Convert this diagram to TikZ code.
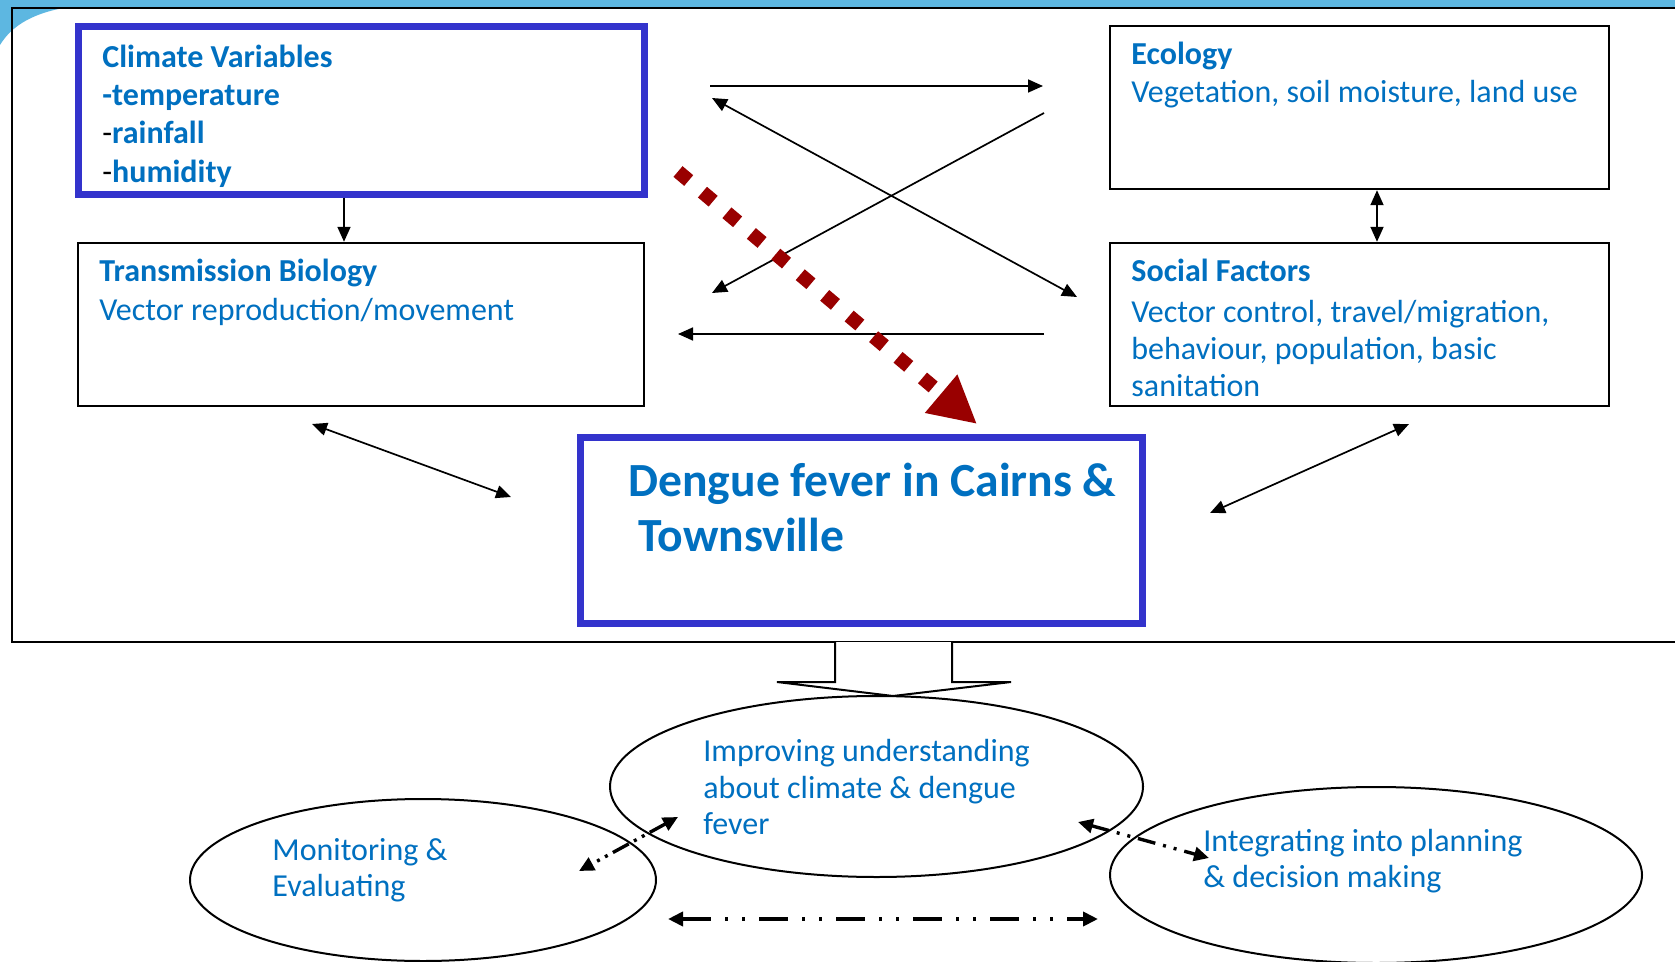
\documentclass[tikz,border=0pt]{standalone}
\usepackage{fontspec}
\setmainfont{Carlito}
\usetikzlibrary{arrows.meta,shapes.geometric}
\definecolor{txtblue}{HTML}{0070C0}
\definecolor{boxblue}{HTML}{3333CC}
\definecolor{darkred}{HTML}{990000}
\definecolor{skyA}{HTML}{D6EEF8}
\definecolor{skyB}{HTML}{5DB7E1}
\tikzset{
  bluebox/.style={draw=boxblue, line width=3.5pt, rectangle, inner sep=0pt},
  plainbox/.style={draw=black, line width=1.2pt, rectangle, inner sep=0pt},
  oval/.style={draw=black, line width=1pt, ellipse, inner sep=0pt},
  txt/.style={anchor=base west, inner sep=0pt, text=txtblue, font=\fontsize{16}{19}\selectfont},
  btxt/.style={txt, font=\fontsize{16}{19}\selectfont\bfseries},
  bigtxt/.style={txt, font=\fontsize{23.8}{28}\selectfont\bfseries},
  arr/.style={line width=0.85pt, -{Triangle[length=7.5pt,width=6.5pt]}},
  darr/.style={line width=0.85pt, {Triangle[length=7.5pt,width=6.5pt]}-{Triangle[length=7.5pt,width=6.5pt]}},
  thickdarr/.style={line width=1.7pt, {Triangle[length=7.5pt,width=7pt]}-{Triangle[length=7.5pt,width=7pt]}},
}
\begin{document}
\begin{tikzpicture}[x=0.5pt,y=-0.5pt]
\useasboundingbox (0,0) rectangle (1675,962);
\fill[white] (0,0) rectangle (1675,962);
% top swoosh
\shade[left color=skyB, middle color=skyA, right color=skyB]
  (0,0) -- (1675,0) -- (1675,7) -- (70,7) .. controls (35,12) and (12,25) .. (0,45) -- cycle;
% outer frame
\draw[line width=1.3pt] (1680,8) -- (12,8) -- (12,642) -- (1680,642);

% boxes
\node[bluebox, minimum width=283pt, minimum height=84pt] (climate) at (361.5,110.5) {};
\node[plainbox, minimum width=283pt, minimum height=81.5pt] (trans) at (361,324.5) {};
\node[plainbox, minimum width=249.5pt, minimum height=81.5pt] (eco) at (1359.5,107.5) {};
\node[plainbox, minimum width=249.5pt, minimum height=81.5pt] (social) at (1359.5,324.5) {};
\node[bluebox, minimum width=281pt, minimum height=93pt] (dengue) at (861,530) {};

% texts
\node[btxt] (cv1) at (102,68) {Climate Variables};
\node[btxt] (cv2) at (102,106) {-temperature};
\node[btxt] (cv3) at (102,144) {{\color{black}\mdseries -}rainfall};
\node[btxt] (cv4) at (102,183) {{\color{black}\mdseries -}humidity};
\node[btxt] (tb1) at (99,282) {Transmission Biology};
\node[txt] (tb2) at (99,321) {Vector reproduction/movement};
\node[btxt] (ec1) at (1131,65) {Ecology};
\node[txt] (ec2) at (1131,103) {Vegetation, soil moisture, land use};
\node[btxt] (sf1) at (1131,282) {Social Factors};
\node[txt] (sf2) at (1131,323) {Vector control, travel/migration,};
\node[txt] (sf3) at (1131,360) {behaviour, population, basic};
\node[txt] (sf4) at (1131,397) {sanitation};
\node[bigtxt] (dg1) at (628,496) {Dengue fever in Cairns \&};
\node[bigtxt] (dg2) at (638,551) {Townsville};

% ellipses
\node[oval, minimum width=266.5pt, minimum height=90.5pt] (improve) at (876.5,786.5) {};
\node[oval, minimum width=233pt, minimum height=81pt] (monitor) at (423,880) {};
\node[oval, minimum width=266pt, minimum height=88pt] (integrate) at (1376,875) {};
\node[txt] (im1) at (703,761) {Improving understanding};
\node[txt] (im2) at (703,798) {about climate \& dengue};
\node[txt] (im3) at (703,834) {fever};
\node[txt] (mo1) at (272,860) {Monitoring \&};
\node[txt] (mo2) at (272,896) {Evaluating};
\node[txt] (in1) at (1203,851) {Integrating into planning};
\node[txt] (in2) at (1203,887) {\& decision making};

% connector end points
\coordinate (a1s) at (710,86);   \coordinate (a1e) at (1043,86);
\coordinate (a2s) at (712,98);   \coordinate (a2e) at (1077,297);
\coordinate (a3s) at (1044,113); \coordinate (a3e) at (712,293);
\coordinate (a4s) at (1044,334); \coordinate (a4e) at (678,334);
\coordinate (t1) at (312,424);   \coordinate (t2) at (511,497);
\coordinate (s1) at (1409,424);  \coordinate (s2) at (1210,513);
\coordinate (r1) at (678,171.5); \coordinate (r2) at (977,424);
\coordinate (m1) at (579,871);   \coordinate (m2) at (678,817);
\coordinate (i1) at (1078,822);  \coordinate (i2) at (1209,858);
\coordinate (b1) at (668,919);   \coordinate (b2) at (1098,919);

% connectors
\draw[arr] (climate.south -| 344,0) -- (trans.north -| 344,0);
\draw[darr] (eco.south -| 1377,0) -- (social.north -| 1377,0);
\draw[arr] (a1s) -- (a1e);
\draw[darr] (a2s) -- (a2e);
\draw[arr] (a3s) -- (a3e);
\draw[arr] (a4s) -- (a4e);
\draw[darr] (t1) -- (t2);
\draw[darr] (s1) -- (s2);
\draw[darkred, line width=7pt, dash pattern=on 7pt off 9pt,
      -{Triangle[length=23.5pt,width=23.5pt]}] (r1) -- (r2);

% block arrow below frame
\coordinate (k1) at (835,642); \coordinate (k2) at (952,642);
\draw[line width=1pt, fill=white] (k1) -- (835,682) -- (777,682) -- (893,696) -- (1011,682) -- (952,682) -- (k2);

% ellipse connectors
\draw[thickdarr, dash pattern=on 9pt off 3pt on 1.5pt off 3pt on 1.5pt off 3pt] (m2) -- (m1);
\draw[thickdarr, dash pattern=on 9pt off 4pt on 1.5pt off 4pt on 1.5pt off 4pt] (i1) -- (i2);
\draw[thickdarr, line width=2pt, dash pattern=on 14.5pt off 7pt on 1.5pt off 7pt on 1.5pt off 7pt] (b1) -- (b2);
\end{tikzpicture}
\end{document}
